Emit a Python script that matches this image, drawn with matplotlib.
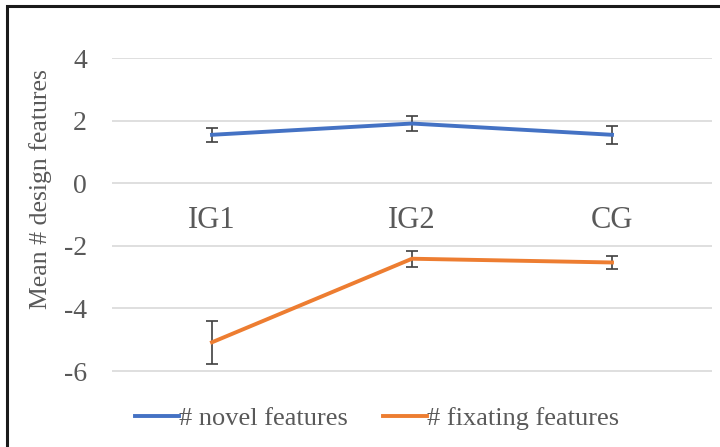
import matplotlib
matplotlib.use("Agg")
import matplotlib.pyplot as plt
from matplotlib.patches import Rectangle

# Group means and standard errors
groups = ["IG1", "IG2", "CG"]
novel_mean = [1.55, 1.91, 1.55]
novel_err = [0.22, 0.23, 0.28]
fixating_mean = [-5.08, -2.41, -2.53]
fixating_err = [0.68, 0.26, 0.22]
y_ticks = [-6, -4, -2, 0, 2, 4]

BLUE = "#4472C4"
ORANGE = "#ED7D31"
TEXT = "#595959"
GRID = "#D9D9D9"

plt.rcParams["font.family"] = ["Liberation Serif", "DejaVu Serif"]

fig = plt.figure(figsize=(7.2, 4.47), dpi=100)
ax = fig.add_axes([112 / 720, 1 - 371.7 / 447, 600 / 720, (371.7 - 57.5) / 447])

x = list(range(len(groups)))
ax.errorbar(x, novel_mean, yerr=novel_err, color=BLUE, lw=2.8,
            ecolor="#404040", elinewidth=1.2, capsize=4, capthick=1.2,
            label="# novel features", zorder=3)
ax.errorbar(x, fixating_mean, yerr=fixating_err, color=ORANGE, lw=2.8,
            ecolor="#404040", elinewidth=1.2, capsize=4, capthick=1.2,
            label="# fixating features", zorder=3)

ax.set_xlim(-0.5, len(groups) - 0.5)
ax.set_ylim(min(y_ticks) - 0.02, max(y_ticks) + 0.02)
ax.set_yticks(y_ticks)
ax.set_yticklabels([str(t) for t in y_ticks])
ax.grid(axis="y", color=GRID, lw=1.2)
ax.set_axisbelow(True)
for s in ax.spines.values():
    s.set_visible(False)
ax.tick_params(axis="y", length=0, pad=18, labelsize=20, labelcolor=TEXT)
ax.set_xticks([])

# Category labels sit just under the zero line
for xi, g in zip(x, groups):
    ax.text(xi, -1.2, g, ha="center", va="center", fontsize=22, color=TEXT)

ax.set_ylabel("Mean # design features", fontsize=18.5, color=TEXT)
ax.yaxis.set_label_coords((41 - 112) / 600, 0.5 - (189 - 214.6) / 314.2)
ax.yaxis.label.set_va("center")

labels = ["# novel features", "# fixating features"]
handles = [plt.Line2D([], [], color=BLUE, lw=2.8), plt.Line2D([], [], color=ORANGE, lw=2.8)]
fig.legend(handles, labels, loc="center", bbox_to_anchor=(377 / 720, 1 - 418 / 447),
           ncol=2, frameon=False, fontsize=19, labelcolor=TEXT,
           handlelength=1.65, handletextpad=0.0, columnspacing=1.35)

# Outer frame
fig.patches.append(Rectangle((7 / 720, -0.05), 1.2, 1 - 6 / 447 + 0.05,
                             transform=fig.transFigure, fill=False,
                             edgecolor="#1a1a1a", lw=2.2))

fig.savefig("out.png", dpi=100)
